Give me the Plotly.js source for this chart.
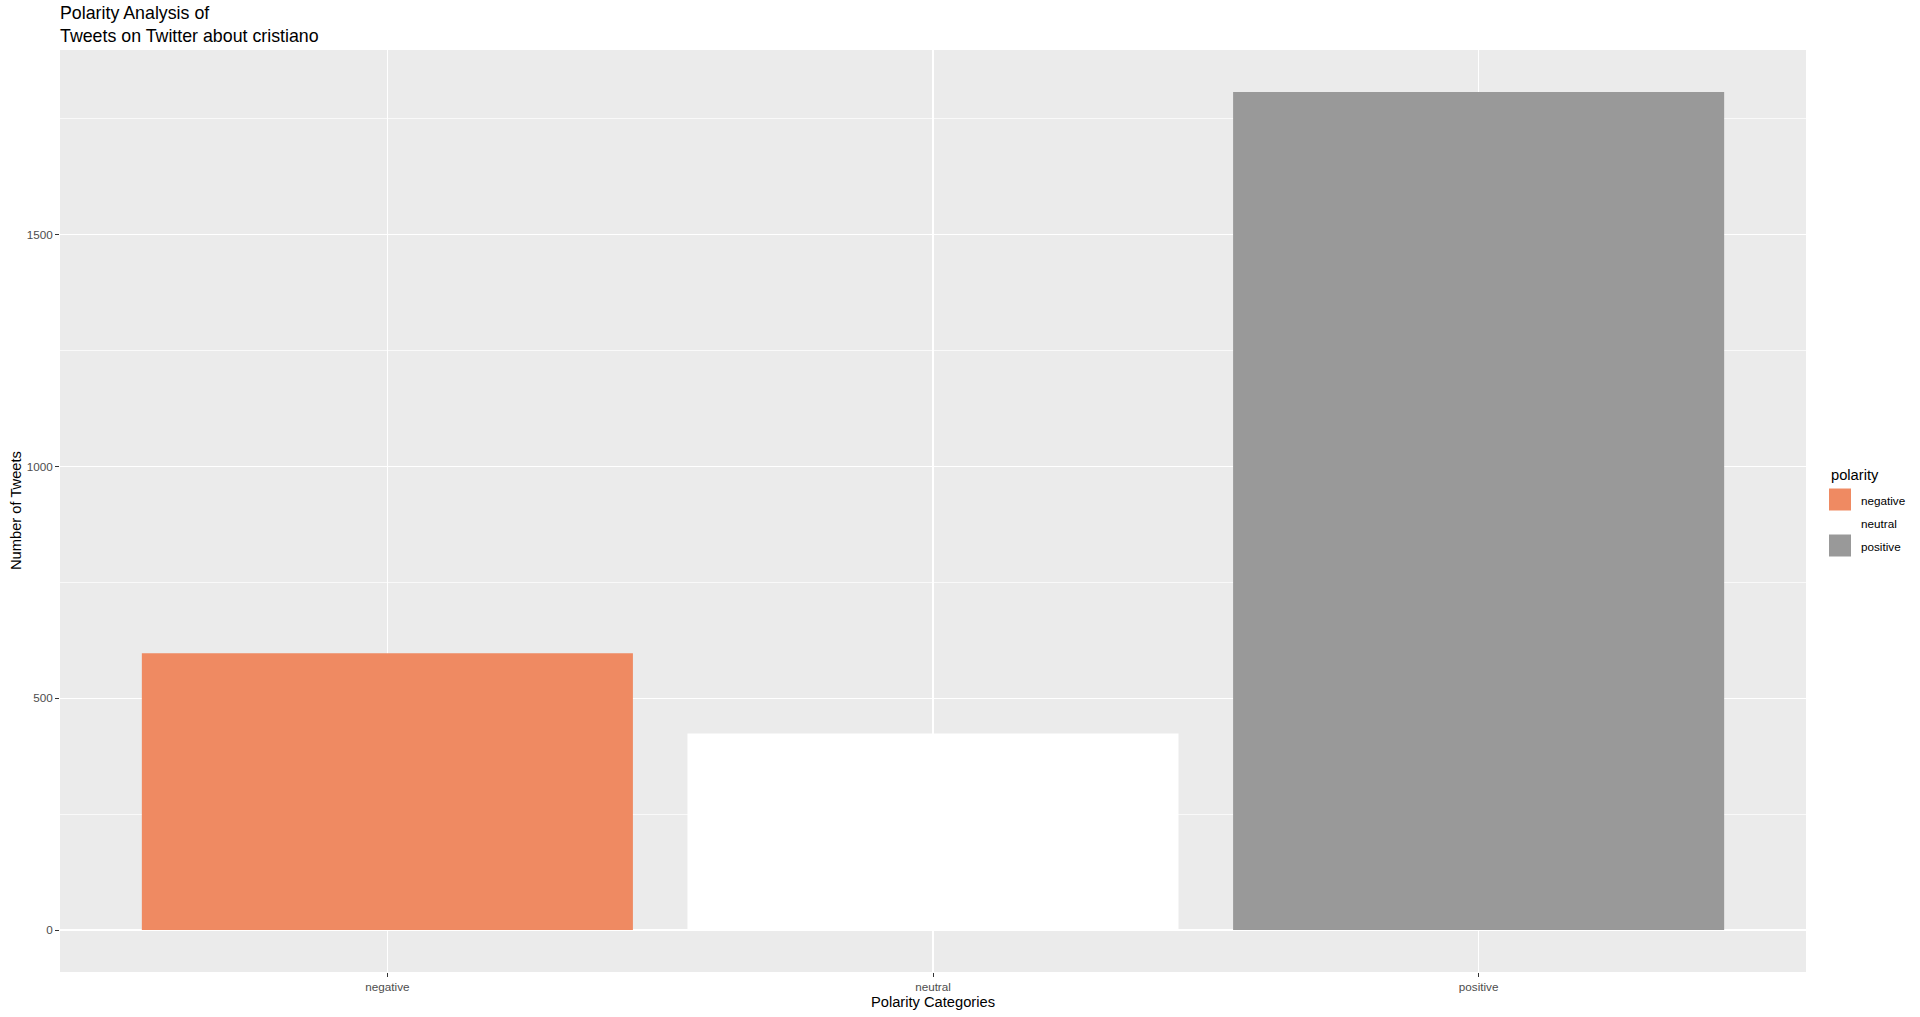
<!DOCTYPE html>
<html>
<head>
<meta charset="utf-8">
<script src="https://cdn.plot.ly/plotly-3.0.1.min.js"></script>
<style>
  html, body { margin: 0; padding: 0; background: #fff; }
  #plot { width: 1920px; height: 1017px; }
</style>
</head>
<body>
<div id="plot"></div>
<script>
// polarity counts
var categories = ['negative', 'neutral', 'positive'];
var counts = [597, 424, 1808];
var barColors = ['#EF8A62', '#FFFFFF', '#999999'];
var yTicks = [0, 500, 1000, 1500];

var font = 'Liberation Sans, Arial, sans-serif';

// panel box in pixels, used to place the ggplot-style legend
var W = 1920, H = 1017;
var M = { l: 60, r: 114, t: 50, b: 45 };
var pw = W - M.l - M.r, ph = H - M.t - M.b;
function px(x) { return (x - M.l) / pw; }
function py(y) { return (H - M.b - y) / ph; }

var traces = categories.map(function (cat, i) {
    return {
        type: 'bar',
        x: [i],
        y: [counts[i]],
        width: 0.9,
        name: cat,
        marker: { color: barColors[i], line: { width: 0 } },
        hoverinfo: 'x+y'
    };
});

var maxCount = Math.max.apply(null, counts);

// legend: keys + labels
var shapes = [];
var annotations = [{
    text: 'polarity', xref: 'paper', yref: 'paper',
    x: px(1829), y: py(475), xanchor: 'left', yanchor: 'middle',
    showarrow: false, font: { family: font, size: 14.7, color: '#000000' }
}, {
    text: 'Number of Tweets', xref: 'paper', yref: 'paper',
    x: px(16), y: 0.5, xanchor: 'center', yanchor: 'middle', textangle: -90,
    showarrow: false, font: { family: font, size: 14.7, color: '#000000' }
}];
categories.forEach(function (cat, i) {
    var top = 488.5 + i * 23;
    shapes.push({
        type: 'rect', xref: 'paper', yref: 'paper', layer: 'above',
        x0: px(1829), x1: px(1851), y0: py(top), y1: py(top + 22),
        fillcolor: barColors[i], line: { width: 0 }
    });
    annotations.push({
        text: cat, xref: 'paper', yref: 'paper',
        x: px(1859), y: py(top + 12), xanchor: 'left', yanchor: 'middle',
        showarrow: false, font: { family: font, size: 11.7, color: '#000000' }
    });
});

var layout = {
    width: W,
    height: H,
    paper_bgcolor: '#FFFFFF',
    plot_bgcolor: '#EBEBEB',
    margin: M,
    barmode: 'overlay',
    showlegend: false,
    font: { family: font, color: '#000000' },
    title: {
        text: 'Polarity Analysis of<br>Tweets on Twitter about cristiano',
        font: { family: font, size: 17.8, color: '#000000' },
        x: 60 / W,
        xanchor: 'left',
        xref: 'container',
        y: 1 - 19 / H,
        yanchor: 'bottom',
        yref: 'container'
    },
    xaxis: {
        range: [-0.6, 2.6],
        tickmode: 'array',
        tickvals: categories.map(function (c, i) { return i; }),
        ticktext: categories,
        ticks: 'outside',
        ticklen: 4,
        tickwidth: 1,
        tickcolor: '#333333',
        tickfont: { family: font, size: 11.7, color: '#4D4D4D' },
        showgrid: true,
        gridcolor: '#FFFFFF',
        gridwidth: 1.4,
        zeroline: false,
        showline: false,
        title: { text: 'Polarity Categories', font: { family: font, size: 14.7, color: '#000000' }, standoff: 4 }
    },
    yaxis: {
        range: [-0.05 * maxCount, 1.05 * maxCount],
        tickmode: 'array',
        tickvals: yTicks,
        ticktext: yTicks.map(String),
        ticks: 'outside',
        ticklen: 4,
        tickwidth: 1,
        tickcolor: '#333333',
        tickfont: { family: font, size: 11.7, color: '#4D4D4D' },
        showgrid: true,
        gridcolor: '#FFFFFF',
        gridwidth: 1.4,
        minor: { dtick: 250, tick0: 0, showgrid: true, gridcolor: '#FFFFFF', gridwidth: 0.7, ticks: '' },
        zeroline: false,
        showline: false
    },
    shapes: shapes,
    annotations: annotations
};

Plotly.newPlot('plot', traces, layout, { displayModeBar: false, staticPlot: true });
</script>
</body>
</html>
